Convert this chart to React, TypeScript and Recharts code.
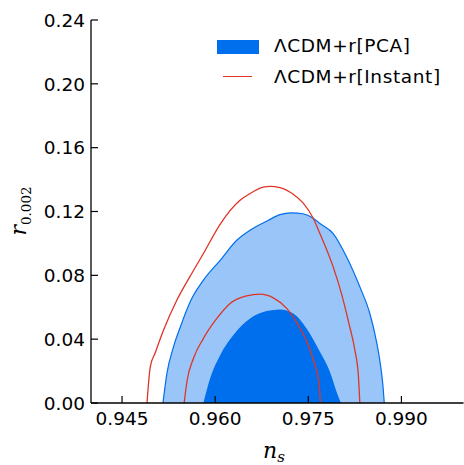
import React from 'react';
import { ComposedChart, Area, Line, XAxis, YAxis, Legend } from 'recharts';

const xTicks = [0.945, 0.96, 0.975, 0.99];
const xTickLabels = ['0.945', '0.960', '0.975', '0.990'];
const yTicks = [0, 0.04, 0.08, 0.12, 0.16, 0.2, 0.24];
const yTickLabels = ['0.00', '0.04', '0.08', '0.12', '0.16', '0.20', '0.24'];
const legendLabels = ['\u039BCDM+r[PCA]', '\u039BCDM+r[Instant]'];

// PCA 2-sigma contour (upper edge)
const pcaOuterNs = [0.95159, 0.95223, 0.95329, 0.95437, 0.95598, 0.95811, 0.9608, 0.96348, 0.96562, 0.96856, 0.97044, 0.97232, 0.97414, 0.97579, 0.97687, 0.97901, 0.98116, 0.9833, 0.98491, 0.98571, 0.98651, 0.98704, 0.98724];
const pcaOuterR = [0, 0.0186, 0.0352, 0.0475, 0.0635, 0.077, 0.0894, 0.102, 0.1083, 0.1145, 0.118, 0.1192, 0.1186, 0.1158, 0.1125, 0.1062, 0.0916, 0.0728, 0.0561, 0.0436, 0.0269, 0.0102, 0];

// PCA 1-sigma contour
const pcaInnerNs = [0.95811, 0.95919, 0.9608, 0.96294, 0.96562, 0.9683, 0.97044, 0.97258, 0.97473, 0.97687, 0.97848, 0.97955, 0.98025];
const pcaInnerR = [0, 0.0155, 0.03, 0.0426, 0.053, 0.0576, 0.0586, 0.0561, 0.0467, 0.0321, 0.0196, 0.0071, 0];

// Instant 2-sigma contour
const instOuterNs = [0.94902, 0.94955, 0.95035, 0.95169, 0.95384, 0.95598, 0.95811, 0.9608, 0.96401, 0.96562, 0.96771, 0.96883, 0.97044, 0.97258, 0.97419, 0.97579, 0.97687, 0.97901, 0.98041, 0.98153, 0.9825, 0.98306, 0.9833];
const instOuterR = [0, 0.0227, 0.0315, 0.0457, 0.0645, 0.0795, 0.0937, 0.112, 0.127, 0.1312, 0.1352, 0.1358, 0.135, 0.1308, 0.1252, 0.1158, 0.1062, 0.0853, 0.0676, 0.0501, 0.0332, 0.0175, 0];

// Instant 1-sigma contour
const instInnerNs = [0.95501, 0.95545, 0.95651, 0.95811, 0.96027, 0.96241, 0.96509, 0.96723, 0.96937, 0.97152, 0.97338, 0.97499, 0.97607, 0.97676, 0.97695];
const instInnerR = [0, 0.0133, 0.028, 0.0405, 0.053, 0.0624, 0.0671, 0.0682, 0.0659, 0.0593, 0.0488, 0.0363, 0.0238, 0.0113, 0];

const rowMap = new Map<number, any>();
function addSeries(key: string, xs: number[], ys: number[]) {
  xs.forEach((x, i) => {
    const row = rowMap.get(x) || { ns: x };
    row[key] = ys[i];
    rowMap.set(x, row);
  });
}
addSeries('pcaOuter', pcaOuterNs, pcaOuterR);
addSeries('pcaInner', pcaInnerNs, pcaInnerR);
addSeries('instOuter', instOuterNs, instOuterR);
addSeries('instInner', instInnerNs, instInnerR);
const data = Array.from(rowMap.values()).sort((a, b) => a.ns - b.ns);

const BLUE = '#006FED';
const LIGHT = '#99C5F8';
const RED = '#E03424';
const TICK_FONT = 'DejaVu Sans';
const TF = 18.5;

const BottomTick = (p: any) => {
  const i = xTicks.indexOf(p.payload.value);
  return (
    <g>
      <line x1={p.x} x2={p.x} y1={p.y} y2={p.y - 7} stroke="#000" strokeWidth={1.2} />
      <text x={p.x} y={p.y + 22} textAnchor="middle" fontFamily={TICK_FONT} fontSize={TF} fill="#000">
        {xTickLabels[i]}
      </text>
    </g>
  );
};
const TopTick = (p: any) => (
  <line x1={p.x} x2={p.x} y1={p.y} y2={p.y + 7} stroke="#000" strokeWidth={1.2} />
);
const LeftTick = (p: any) => {
  const i = yTicks.indexOf(p.payload.value);
  return (
    <g>
      <line x1={p.x} x2={p.x + 7} y1={p.y} y2={p.y} stroke="#000" strokeWidth={1.2} />
      <text x={p.x - 6} y={p.y + 6.7} textAnchor="end" fontFamily={TICK_FONT} fontSize={TF} fill="#000">
        {yTickLabels[i]}
      </text>
    </g>
  );
};
const RightTick = (p: any) => (
  <line x1={p.x} x2={p.x - 7} y1={p.y} y2={p.y} stroke="#000" strokeWidth={1.2} />
);

const LegendContent = () => (
  <div style={{ position: 'relative', width: 254, height: 70, fontFamily: TICK_FONT, fontSize: TF, color: '#000' }}>
    <div style={{ position: 'absolute', left: 7, top: 9.5, width: 42, height: 14.5, background: BLUE }} />
    <div style={{ position: 'absolute', left: 64, top: 5, lineHeight: '22px', whiteSpace: 'nowrap', letterSpacing: 0.6 }}>{legendLabels[0]}</div>
    <div style={{ position: 'absolute', left: 13, top: 46, width: 29, height: 1.3, background: RED }} />
    <div style={{ position: 'absolute', left: 64, top: 35.5, lineHeight: '22px', whiteSpace: 'nowrap', letterSpacing: 0.6 }}>{legendLabels[1]}</div>
  </div>
);

const XLabel = () => (
  <text x={263} y={458} fontFamily="DejaVu Serif" fontSize={22} fill="#000">
    <tspan fontStyle="italic">n</tspan>
    <tspan fontStyle="italic" fontSize={15} dy={3.5}>s</tspan>
  </text>
);
const YLabel = () => (
  <text x={25.5} y={211} transform="rotate(-90, 25.5, 211)" textAnchor="middle" fontFamily="DejaVu Serif" fontSize={22} fill="#000">
    <tspan fontStyle="italic">r</tspan>
    <tspan fontSize={13.5} dy={5}>0.002</tspan>
  </text>
);

export default function App() {
  return (
    <div style={{ position: 'absolute', left: 0, top: 0, width: 464, height: 465, background: '#fff' }}>
      <ComposedChart width={464} height={465} data={data} margin={{ top: 20, right: 0.5, bottom: 0, left: 0 }}>
        <XAxis
          xAxisId="b"
          dataKey="ns"
          type="number"
          orientation="bottom"
          domain={[0.94, 1.0]}
          allowDataOverflow
          ticks={xTicks}
          height={62}
          tickSize={0}
          tickMargin={0}
          tickLine={false}
          tick={BottomTick}
          axisLine={{ stroke: '#000', strokeWidth: 1.3 }}
          label={{ content: XLabel }}
        />
        <XAxis
          xAxisId="t"
          dataKey="ns"
          type="number"
          orientation="top"
          domain={[0.94, 1.0]}
          allowDataOverflow
          ticks={xTicks}
          height={0}
          tickSize={0}
          tickMargin={0}
          tickLine={false}
          tick={TopTick}
          axisLine={{ stroke: '#000', strokeWidth: 1.3 }}
        />
        <YAxis
          yAxisId="l"
          type="number"
          orientation="left"
          domain={[0, 0.24]}
          allowDataOverflow
          ticks={yTicks}
          width={91}
          tickSize={0}
          tickMargin={0}
          tickLine={false}
          tick={LeftTick}
          axisLine={{ stroke: '#000', strokeWidth: 1.3 }}
          label={{ content: YLabel }}
        />
        <YAxis
          yAxisId="r"
          type="number"
          orientation="right"
          domain={[0, 0.24]}
          allowDataOverflow
          ticks={yTicks}
          width={0}
          tickSize={0}
          tickMargin={0}
          tickLine={false}
          tick={RightTick}
          axisLine={{ stroke: '#000', strokeWidth: 1.3 }}
        />
        <Area xAxisId="b" yAxisId="l" type="monotone" dataKey="pcaOuter" connectNulls fill={LIGHT} fillOpacity={1} stroke={BLUE} strokeWidth={1.2} dot={false} activeDot={false} isAnimationActive={false} />
        <Area xAxisId="b" yAxisId="l" type="monotone" dataKey="pcaInner" connectNulls fill={BLUE} fillOpacity={1} stroke="none" dot={false} activeDot={false} isAnimationActive={false} />
        <Line xAxisId="b" yAxisId="l" type="monotone" dataKey="instOuter" connectNulls stroke={RED} strokeWidth={1.3} dot={false} activeDot={false} isAnimationActive={false} />
        <Line xAxisId="b" yAxisId="l" type="monotone" dataKey="instInner" connectNulls stroke={RED} strokeWidth={1.3} dot={false} activeDot={false} isAnimationActive={false} />
        <Legend layout="vertical" align="center" verticalAlign="middle" wrapperStyle={{ left: 210, top: 30, width: 254, height: 70 }} content={LegendContent} />
      </ComposedChart>
    </div>
  );
}
